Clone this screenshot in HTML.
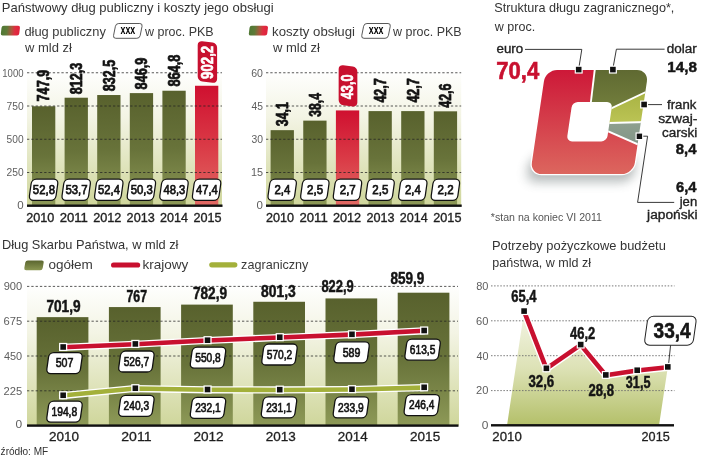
<!DOCTYPE html>
<html lang="pl"><head><meta charset="utf-8"><title>Państwowy dług publiczny i koszty jego obsługi</title>
<style>
html,body{margin:0;padding:0;background:#fff;}
body{width:720px;height:458px;overflow:hidden;}
svg{display:block;font-family:"Liberation Sans",sans-serif;}
</style></head><body>
<svg width="720" height="458" viewBox="0 0 720 458">
<defs>
<linearGradient id="bg" x1="0" y1="0" x2="0" y2="1"><stop offset="0" stop-color="#ffffff"/><stop offset="0.35" stop-color="#f3f4e4"/><stop offset="1" stop-color="#cfd69b"/></linearGradient>
<linearGradient id="ol" x1="0" y1="0" x2="0" y2="1"><stop offset="0" stop-color="#58612d"/><stop offset="0.5" stop-color="#68733a"/><stop offset="1" stop-color="#8d9957"/></linearGradient>
<linearGradient id="rd" x1="0" y1="0" x2="0" y2="1"><stop offset="0" stop-color="#cf1030"/><stop offset="0.5" stop-color="#da3a46"/><stop offset="1" stop-color="#e26a64"/></linearGradient>
<linearGradient id="sw" x1="0" y1="0" x2="1" y2="0"><stop offset="0" stop-color="#4f7834"/><stop offset="0.3" stop-color="#5e7a38"/><stop offset="0.55" stop-color="#a9583c"/><stop offset="0.75" stop-color="#e02c40"/><stop offset="1" stop-color="#e0213d"/></linearGradient>
<linearGradient id="sw2" x1="0" y1="0" x2="0" y2="1"><stop offset="0" stop-color="#5a652f"/><stop offset="1" stop-color="#8b9752"/></linearGradient>
<linearGradient id="area" gradientUnits="userSpaceOnUse" x1="0" y1="311" x2="0" y2="425"><stop offset="0" stop-color="#f4f5e6"/><stop offset="0.5" stop-color="#dde2b6"/><stop offset="1" stop-color="#b4c06a"/></linearGradient>
<linearGradient id="dred" gradientUnits="userSpaceOnUse" x1="0" y1="70" x2="0" y2="174"><stop offset="0" stop-color="#cd1838"/><stop offset="1" stop-color="#dc665e"/></linearGradient>
<linearGradient id="dgreen" x1="0" y1="0" x2="0" y2="1"><stop offset="0" stop-color="#5a642f"/><stop offset="1" stop-color="#78843f"/></linearGradient>
<linearGradient id="lgreen" x1="0" y1="0" x2="0" y2="1"><stop offset="0" stop-color="#a3af3f"/><stop offset="1" stop-color="#bcc455"/></linearGradient>
<linearGradient id="ggray" x1="0" y1="0" x2="0" y2="1"><stop offset="0" stop-color="#8fa08f"/><stop offset="1" stop-color="#7d9184"/></linearGradient>
<filter id="blur" x="-20%" y="-80%" width="140%" height="260%"><feGaussianBlur stdDeviation="5.2"/></filter>
</defs>

<text x="1.76" y="12.40" font-size="13.5" fill="#333" textLength="271.89" lengthAdjust="spacingAndGlyphs">Państwowy dług publiczny i koszty jego obsługi</text>
<rect x="27" y="69.75" width="195" height="135.95" fill="url(#bg)"/>
<rect x="32.00" y="106.28" width="23.3" height="99.42" fill="url(#ol)"/>
<rect x="64.60" y="97.71" width="23.3" height="107.99" fill="url(#ol)"/>
<rect x="97.20" y="95.03" width="23.3" height="110.67" fill="url(#ol)"/>
<rect x="129.80" y="93.11" width="23.3" height="112.59" fill="url(#ol)"/>
<rect x="162.40" y="90.73" width="23.3" height="114.97" fill="url(#ol)"/>
<rect x="195.00" y="85.76" width="23.3" height="119.94" fill="url(#rd)"/>
<line x1="27" y1="72.75" x2="222" y2="72.75" stroke="#222" stroke-width="0.75" stroke-dasharray="2.3 2.0"/>
<text x="2.28" y="76.55" font-size="11" fill="#5e5e5e" textLength="21.25" lengthAdjust="spacingAndGlyphs">1000</text>
<line x1="27" y1="106.00" x2="222" y2="106.00" stroke="#222" stroke-width="0.75" stroke-dasharray="2.3 2.0"/>
<text x="6.49" y="109.80" font-size="11" fill="#5e5e5e" textLength="17.11" lengthAdjust="spacingAndGlyphs">750</text>
<line x1="27" y1="139.25" x2="222" y2="139.25" stroke="#222" stroke-width="0.75" stroke-dasharray="2.3 2.0"/>
<text x="6.59" y="143.05" font-size="11" fill="#5e5e5e" textLength="17.00" lengthAdjust="spacingAndGlyphs">500</text>
<line x1="27" y1="172.50" x2="222" y2="172.50" stroke="#222" stroke-width="0.75" stroke-dasharray="2.3 2.0"/>
<text x="6.49" y="176.30" font-size="11" fill="#5e5e5e" textLength="17.11" lengthAdjust="spacingAndGlyphs">250</text>
<text x="17.20" y="209.15" font-size="11" fill="#5e5e5e" textLength="6.42" lengthAdjust="spacingAndGlyphs">0</text>
<rect x="27" y="204.50" width="195.5" height="2.4" fill="#111"/>
<rect x="-13.32" y="-10.60" width="26.63" height="21.20" rx="4.6" fill="#fff" stroke="#111" stroke-width="1.25" transform="translate(43.60,189.70) skewX(-7.97)"/>
<text x="32.85" y="194.30" font-size="13.6" fill="#151515" textLength="22.12" lengthAdjust="spacingAndGlyphs" stroke="#151515" stroke-width="0.75">52,8</text>
<text x="26.27" y="221.50" font-size="12.9" fill="#1e1e1e" textLength="28.07" lengthAdjust="spacingAndGlyphs" stroke="#1e1e1e" stroke-width="0.35">2010</text>
<rect x="-13.32" y="-10.60" width="26.63" height="21.20" rx="4.6" fill="#fff" stroke="#111" stroke-width="1.25" transform="translate(76.20,189.70) skewX(-7.97)"/>
<text x="65.44" y="194.30" font-size="13.6" fill="#151515" textLength="22.18" lengthAdjust="spacingAndGlyphs" stroke="#151515" stroke-width="0.75">53,7</text>
<text x="59.69" y="221.50" font-size="12.9" fill="#1e1e1e" textLength="28.25" lengthAdjust="spacingAndGlyphs" stroke="#1e1e1e" stroke-width="0.35">2011</text>
<rect x="-13.32" y="-10.60" width="26.63" height="21.20" rx="4.6" fill="#fff" stroke="#111" stroke-width="1.25" transform="translate(108.80,189.70) skewX(-7.97)"/>
<text x="98.05" y="194.30" font-size="13.6" fill="#151515" textLength="21.95" lengthAdjust="spacingAndGlyphs" stroke="#151515" stroke-width="0.75">52,4</text>
<text x="93.17" y="221.50" font-size="12.9" fill="#1e1e1e" textLength="28.20" lengthAdjust="spacingAndGlyphs" stroke="#1e1e1e" stroke-width="0.35">2012</text>
<rect x="-13.32" y="-10.60" width="26.63" height="21.20" rx="4.6" fill="#fff" stroke="#111" stroke-width="1.25" transform="translate(141.40,189.70) skewX(-7.97)"/>
<text x="130.65" y="194.30" font-size="13.6" fill="#151515" textLength="22.12" lengthAdjust="spacingAndGlyphs" stroke="#151515" stroke-width="0.75">50,3</text>
<text x="126.62" y="221.50" font-size="12.9" fill="#1e1e1e" textLength="28.13" lengthAdjust="spacingAndGlyphs" stroke="#1e1e1e" stroke-width="0.35">2013</text>
<rect x="-13.32" y="-10.60" width="26.63" height="21.20" rx="4.6" fill="#fff" stroke="#111" stroke-width="1.25" transform="translate(174.00,189.70) skewX(-7.97)"/>
<text x="163.48" y="194.30" font-size="13.6" fill="#151515" textLength="21.89" lengthAdjust="spacingAndGlyphs" stroke="#151515" stroke-width="0.75">48,3</text>
<text x="160.07" y="221.50" font-size="12.9" fill="#1e1e1e" textLength="27.94" lengthAdjust="spacingAndGlyphs" stroke="#1e1e1e" stroke-width="0.35">2014</text>
<rect x="-13.32" y="-10.60" width="26.63" height="21.20" rx="4.6" fill="#fff" stroke="#111" stroke-width="1.25" transform="translate(206.60,189.70) skewX(-7.97)"/>
<text x="196.08" y="194.30" font-size="13.6" fill="#151515" textLength="21.72" lengthAdjust="spacingAndGlyphs" stroke="#151515" stroke-width="0.75">47,4</text>
<text x="193.52" y="221.50" font-size="12.9" fill="#1e1e1e" textLength="28.13" lengthAdjust="spacingAndGlyphs" stroke="#1e1e1e" stroke-width="0.35">2015</text>
<text transform="translate(49.35,100.90) rotate(-90)" x="-0.50" font-size="16" font-weight="bold" fill="#111" stroke="#111" stroke-width="0.75" stroke-linejoin="round" textLength="31.58" lengthAdjust="spacingAndGlyphs">747,9</text>
<text transform="translate(81.95,93.80) rotate(-90)" x="-0.38" font-size="16" font-weight="bold" fill="#111" stroke="#111" stroke-width="0.75" stroke-linejoin="round" textLength="31.45" lengthAdjust="spacingAndGlyphs">812,3</text>
<text transform="translate(114.55,90.80) rotate(-90)" x="-0.38" font-size="16" font-weight="bold" fill="#111" stroke="#111" stroke-width="0.75" stroke-linejoin="round" textLength="31.32" lengthAdjust="spacingAndGlyphs">832,5</text>
<text transform="translate(147.15,89.00) rotate(-90)" x="-0.38" font-size="16" font-weight="bold" fill="#111" stroke="#111" stroke-width="0.75" stroke-linejoin="round" textLength="31.76" lengthAdjust="spacingAndGlyphs">846,9</text>
<text transform="translate(179.75,86.20) rotate(-90)" x="-0.38" font-size="16" font-weight="bold" fill="#111" stroke="#111" stroke-width="0.75" stroke-linejoin="round" textLength="31.83" lengthAdjust="spacingAndGlyphs">864,8</text>
<rect x="266" y="69.75" width="195.2" height="135.95" fill="url(#bg)"/>
<rect x="270.60" y="130.16" width="23.3" height="75.54" fill="url(#ol)"/>
<rect x="303.25" y="120.63" width="23.3" height="85.07" fill="url(#ol)"/>
<rect x="335.90" y="110.43" width="23.3" height="95.27" fill="url(#rd)"/>
<rect x="368.50" y="111.10" width="23.3" height="94.60" fill="url(#ol)"/>
<rect x="401.20" y="111.10" width="23.3" height="94.60" fill="url(#ol)"/>
<rect x="433.80" y="111.32" width="23.3" height="94.38" fill="url(#ol)"/>
<line x1="266" y1="72.75" x2="461.2" y2="72.75" stroke="#222" stroke-width="0.75" stroke-dasharray="2.3 2.0"/>
<text x="251.27" y="76.55" font-size="11" fill="#5e5e5e" textLength="11.72" lengthAdjust="spacingAndGlyphs">60</text>
<line x1="266" y1="106.00" x2="461.2" y2="106.00" stroke="#222" stroke-width="0.75" stroke-dasharray="2.3 2.0"/>
<text x="251.59" y="109.80" font-size="11" fill="#5e5e5e" textLength="11.44" lengthAdjust="spacingAndGlyphs">45</text>
<line x1="266" y1="139.25" x2="461.2" y2="139.25" stroke="#222" stroke-width="0.75" stroke-dasharray="2.3 2.0"/>
<text x="251.44" y="143.05" font-size="11" fill="#5e5e5e" textLength="11.55" lengthAdjust="spacingAndGlyphs">30</text>
<line x1="266" y1="172.50" x2="461.2" y2="172.50" stroke="#222" stroke-width="0.75" stroke-dasharray="2.3 2.0"/>
<text x="250.99" y="176.30" font-size="11" fill="#5e5e5e" textLength="12.07" lengthAdjust="spacingAndGlyphs">15</text>
<text x="256.60" y="209.15" font-size="11" fill="#5e5e5e" textLength="6.42" lengthAdjust="spacingAndGlyphs">0</text>
<rect x="266" y="204.50" width="195.7" height="2.4" fill="#111"/>
<rect x="-13.32" y="-10.60" width="26.63" height="21.20" rx="4.6" fill="#fff" stroke="#111" stroke-width="1.25" transform="translate(282.20,189.70) skewX(-7.97)"/>
<text x="274.43" y="194.30" font-size="13.6" fill="#151515" textLength="15.86" lengthAdjust="spacingAndGlyphs" stroke="#151515" stroke-width="0.75">2,4</text>
<text x="266.07" y="221.50" font-size="12.9" fill="#1e1e1e" textLength="28.07" lengthAdjust="spacingAndGlyphs" stroke="#1e1e1e" stroke-width="0.35">2010</text>
<rect x="-13.32" y="-10.60" width="26.63" height="21.20" rx="4.6" fill="#fff" stroke="#111" stroke-width="1.25" transform="translate(314.85,189.70) skewX(-7.97)"/>
<text x="307.07" y="194.30" font-size="13.6" fill="#151515" textLength="16.04" lengthAdjust="spacingAndGlyphs" stroke="#151515" stroke-width="0.75">2,5</text>
<text x="299.49" y="221.50" font-size="12.9" fill="#1e1e1e" textLength="28.25" lengthAdjust="spacingAndGlyphs" stroke="#1e1e1e" stroke-width="0.35">2011</text>
<rect x="-13.32" y="-10.60" width="26.63" height="21.20" rx="4.6" fill="#fff" stroke="#111" stroke-width="1.25" transform="translate(347.50,189.70) skewX(-7.97)"/>
<text x="339.72" y="194.30" font-size="13.6" fill="#151515" textLength="16.10" lengthAdjust="spacingAndGlyphs" stroke="#151515" stroke-width="0.75">2,7</text>
<text x="332.97" y="221.50" font-size="12.9" fill="#1e1e1e" textLength="28.20" lengthAdjust="spacingAndGlyphs" stroke="#1e1e1e" stroke-width="0.35">2012</text>
<rect x="-13.32" y="-10.60" width="26.63" height="21.20" rx="4.6" fill="#fff" stroke="#111" stroke-width="1.25" transform="translate(380.10,189.70) skewX(-7.97)"/>
<text x="372.32" y="194.30" font-size="13.6" fill="#151515" textLength="16.04" lengthAdjust="spacingAndGlyphs" stroke="#151515" stroke-width="0.75">2,5</text>
<text x="366.42" y="221.50" font-size="12.9" fill="#1e1e1e" textLength="28.13" lengthAdjust="spacingAndGlyphs" stroke="#1e1e1e" stroke-width="0.35">2013</text>
<rect x="-13.32" y="-10.60" width="26.63" height="21.20" rx="4.6" fill="#fff" stroke="#111" stroke-width="1.25" transform="translate(412.80,189.70) skewX(-7.97)"/>
<text x="405.03" y="194.30" font-size="13.6" fill="#151515" textLength="15.86" lengthAdjust="spacingAndGlyphs" stroke="#151515" stroke-width="0.75">2,4</text>
<text x="399.87" y="221.50" font-size="12.9" fill="#1e1e1e" textLength="27.94" lengthAdjust="spacingAndGlyphs" stroke="#1e1e1e" stroke-width="0.35">2014</text>
<rect x="-13.32" y="-10.60" width="26.63" height="21.20" rx="4.6" fill="#fff" stroke="#111" stroke-width="1.25" transform="translate(445.40,189.70) skewX(-7.97)"/>
<text x="437.62" y="194.30" font-size="13.6" fill="#151515" textLength="16.10" lengthAdjust="spacingAndGlyphs" stroke="#151515" stroke-width="0.75">2,2</text>
<text x="433.32" y="221.50" font-size="12.9" fill="#1e1e1e" textLength="28.13" lengthAdjust="spacingAndGlyphs" stroke="#1e1e1e" stroke-width="0.35">2015</text>
<text transform="translate(287.95,126.00) rotate(-90)" x="-0.25" font-size="16" font-weight="bold" fill="#111" stroke="#111" stroke-width="0.75" stroke-linejoin="round" textLength="24.07" lengthAdjust="spacingAndGlyphs">34,1</text>
<text transform="translate(320.60,116.40) rotate(-90)" x="-0.24" font-size="16" font-weight="bold" fill="#111" stroke="#111" stroke-width="0.75" stroke-linejoin="round" textLength="23.56" lengthAdjust="spacingAndGlyphs">38,4</text>
<text transform="translate(385.85,102.40) rotate(-90)" x="-0.19" font-size="16" font-weight="bold" fill="#111" stroke="#111" stroke-width="0.75" stroke-linejoin="round" textLength="24.30" lengthAdjust="spacingAndGlyphs">42,7</text>
<text transform="translate(418.55,102.40) rotate(-90)" x="-0.19" font-size="16" font-weight="bold" fill="#111" stroke="#111" stroke-width="0.75" stroke-linejoin="round" textLength="24.30" lengthAdjust="spacingAndGlyphs">42,7</text>
<text transform="translate(451.15,107.60) rotate(-90)" x="-0.19" font-size="16" font-weight="bold" fill="#111" stroke="#111" stroke-width="0.75" stroke-linejoin="round" textLength="24.24" lengthAdjust="spacingAndGlyphs">42,6</text>
<g transform="translate(207.40,62.00) rotate(-90)">
<rect x="-20.14" y="-9.70" width="40.28" height="19.40" rx="4.5" fill="#c8102f" transform="skewX(-7.41)"/>
<text x="-16.90" y="5.40" font-size="16.5" font-weight="bold" fill="#fff" stroke="#fff" stroke-width="0.7" stroke-linejoin="round" textLength="33.09" lengthAdjust="spacingAndGlyphs">902,2</text>
</g>
<g transform="translate(348.00,85.80) rotate(-90)">
<rect x="-19.98" y="-9.35" width="39.97" height="18.70" rx="4.5" fill="#c8102f" transform="skewX(-7.41)"/>
<text x="-13.39" y="5.40" font-size="16.5" font-weight="bold" fill="#fff" stroke="#fff" stroke-width="0.7" stroke-linejoin="round" textLength="24.65" lengthAdjust="spacingAndGlyphs">43,0</text>
</g>
<rect x="-9.21" y="-4.9" width="18.42" height="9.8" rx="2" fill="url(#sw)" transform="translate(10.40,30.7) skewX(-6.8)"/>
<text x="24.39" y="35.50" font-size="13.5" fill="#3a3a3a" textLength="81.48" lengthAdjust="spacingAndGlyphs">dług publiczny</text>
<text x="24.97" y="51.90" font-size="13.5" fill="#3a3a3a" textLength="46.95" lengthAdjust="spacingAndGlyphs">w mld zł</text>
<rect x="-13.32" y="-7.40" width="26.64" height="14.80" rx="2.8" fill="#fff" stroke="#444" stroke-width="0.85" transform="translate(127.80,30.90) skewX(-11.31)"/>
<text x="120.56" y="34.00" font-size="12.2" font-weight="bold" textLength="14.72" lengthAdjust="spacingAndGlyphs">xxx</text>
<text x="145.06" y="35.60" font-size="13.5" fill="#3a3a3a" textLength="68.59" lengthAdjust="spacingAndGlyphs">w proc. PKB</text>
<rect x="-9.21" y="-4.9" width="18.42" height="9.8" rx="2" fill="url(#sw)" transform="translate(258.40,30.7) skewX(-6.8)"/>
<text x="272.04" y="35.50" font-size="13.5" fill="#3a3a3a" textLength="82.93" lengthAdjust="spacingAndGlyphs">koszty obsługi</text>
<text x="272.97" y="51.90" font-size="13.5" fill="#3a3a3a" textLength="46.95" lengthAdjust="spacingAndGlyphs">w mld zł</text>
<rect x="-13.32" y="-7.40" width="26.64" height="14.80" rx="2.8" fill="#fff" stroke="#444" stroke-width="0.85" transform="translate(376.00,30.90) skewX(-11.31)"/>
<text x="368.76" y="34.00" font-size="12.2" font-weight="bold" textLength="14.72" lengthAdjust="spacingAndGlyphs">xxx</text>
<text x="393.06" y="35.60" font-size="13.5" fill="#3a3a3a" textLength="68.59" lengthAdjust="spacingAndGlyphs">w proc. PKB</text>
<text x="494.23" y="12.40" font-size="13.5" fill="#333" textLength="180.16" lengthAdjust="spacingAndGlyphs">Struktura długu zagranicznego*,</text>
<text x="494.86" y="31.00" font-size="13.5" fill="#333" textLength="40.34" lengthAdjust="spacingAndGlyphs">w proc.</text>
<clipPath id="donut"><path transform="translate(0,122.0) skewX(-8.42) translate(0,-122.0)" clip-rule="evenodd" fill-rule="evenodd" d="M549.4,70.0 H629.4 a11.5,11.5 0 0 1 11.5,11.5 V162.5 a11.5,11.5 0 0 1 -11.5,11.5 H549.4 a11.5,11.5 0 0 1 -11.5,-11.5 V81.5 a11.5,11.5 0 0 1 11.5,-11.5 Z M574.9,102.0 a5.5,5.5 0 0 0 -5.5,5.5 V135.9 a5.5,5.5 0 0 0 5.5,5.5 H604.1 a5.5,5.5 0 0 0 5.5,-5.5 V107.5 a5.5,5.5 0 0 0 -5.5,-5.5 Z"/></clipPath>
<rect x="534.9" y="156" width="107.0" height="26" rx="10" fill="#5f6b6b" opacity="0.45" filter="url(#blur)" transform="translate(0,122.0) skewX(-8.42) translate(0,-122.0)"/>
<rect x="536.6" y="68.7" width="105.6" height="106.6" rx="12.8" fill="#fff" transform="translate(0,122.0) skewX(-8.42) translate(0,-122.0)"/>
<rect x="569.4" y="102.0" width="40.200000000000045" height="39.400000000000006" rx="5.5" fill="#fff" transform="translate(0,122.0) skewX(-8.42) translate(0,-122.0)"/>
<g clip-path="url(#donut)">
<polygon points="589.5,123.1 660,154.1 660,185 515,185 515,55 595.2,55 595.2,66 590.4,106" fill="url(#dred)"/>
<polygon points="590.4,106 595.2,66 660,60 660,85.4 589.5,118.7" fill="url(#dgreen)"/>
<polygon points="589.5,118.7 660,85.4 660,121.7 589.5,123.5" fill="url(#lgreen)"/>
<polygon points="589.5,123.5 660,121.7 660,154.1 589.5,123.1" fill="url(#ggray)"/>
<line x1="590.4" y1="106" x2="595.2" y2="66" stroke="#fff" stroke-width="1.9"/>
<line x1="589.5" y1="118.7" x2="660" y2="85.4" stroke="#fff" stroke-width="1.9"/>
<line x1="589.5" y1="123.5" x2="660" y2="121.7" stroke="#fff" stroke-width="1.9"/>
<line x1="589.5" y1="123.1" x2="660" y2="154.1" stroke="#fff" stroke-width="1.9"/>
</g>
<g fill="none" stroke="#222" stroke-width="0.9">
<polyline points="525,49.4 581.8,49.4 579,67"/>
<polyline points="664.6,49.2 616.4,49.2 613.2,67"/>
<polyline points="647,104.6 662,104.6"/>
<polyline points="642,136.2 647.6,136.2 637.6,202.4 674.2,202.4"/>
</g>
<rect x="574.70" y="65.60" width="8.00" height="8.00" fill="#fff"/>
<rect x="575.90" y="66.80" width="5.60" height="5.60" fill="#111"/>
<rect x="608.90" y="65.60" width="8.00" height="8.00" fill="#fff"/>
<rect x="610.10" y="66.80" width="5.60" height="5.60" fill="#111"/>
<rect x="640.10" y="100.50" width="8.00" height="8.00" fill="#fff"/>
<rect x="641.30" y="101.70" width="5.60" height="5.60" fill="#111"/>
<rect x="635.50" y="132.40" width="7.80" height="7.80" fill="#fff"/>
<rect x="636.70" y="133.60" width="5.40" height="5.40" fill="#111"/>
<text x="496.47" y="53.40" font-size="12.5" fill="#222" textLength="26.69" lengthAdjust="spacingAndGlyphs" stroke="#222" stroke-width="0.35">euro</text>
<text x="496.32" y="78.60" font-size="24" font-weight="bold" fill="#c8102f" textLength="42.91" lengthAdjust="spacingAndGlyphs" stroke="#c8102f" stroke-width="0.6">70,4</text>
<text x="666.66" y="53.40" font-size="12.5" fill="#222" textLength="30.03" lengthAdjust="spacingAndGlyphs" stroke="#222" stroke-width="0.35">dolar</text>
<text x="667.29" y="71.70" font-size="15.4" font-weight="bold" fill="#151515" textLength="29.61" lengthAdjust="spacingAndGlyphs" stroke="#151515" stroke-width="0.5">14,8</text>
<text x="667.07" y="108.50" font-size="12.5" fill="#222" textLength="29.24" lengthAdjust="spacingAndGlyphs" stroke="#222" stroke-width="0.35">frank</text>
<text x="658.15" y="122.60" font-size="12.5" fill="#222" textLength="39.35" lengthAdjust="spacingAndGlyphs" stroke="#222" stroke-width="0.35">szwaj-</text>
<text x="661.96" y="136.60" font-size="12.5" fill="#222" textLength="35.24" lengthAdjust="spacingAndGlyphs" stroke="#222" stroke-width="0.35">carski</text>
<text x="675.75" y="153.50" font-size="15.4" font-weight="bold" fill="#151515" textLength="20.65" lengthAdjust="spacingAndGlyphs" stroke="#151515" stroke-width="0.5">8,4</text>
<text x="676.09" y="192.00" font-size="15.4" font-weight="bold" fill="#151515" textLength="20.42" lengthAdjust="spacingAndGlyphs" stroke="#151515" stroke-width="0.5">6,4</text>
<text x="679.73" y="205.50" font-size="12.5" fill="#222" textLength="17.45" lengthAdjust="spacingAndGlyphs" stroke="#222" stroke-width="0.35">jen</text>
<text x="647.14" y="219.00" font-size="12.5" fill="#222" textLength="50.41" lengthAdjust="spacingAndGlyphs" stroke="#222" stroke-width="0.35">japoński</text>
<text x="490.84" y="220.60" font-size="10.5" fill="#555" textLength="111.12" lengthAdjust="spacingAndGlyphs">*stan na koniec VI 2011</text>
<text x="1.98" y="249.40" font-size="13.5" fill="#333" textLength="176.47" lengthAdjust="spacingAndGlyphs">Dług Skarbu Państwa, w mld zł</text>
<rect x="-9.2" y="-4.9" width="18.4" height="9.8" rx="2.2" fill="url(#sw2)" transform="translate(34,265.3) skewX(-10)"/>
<text x="48.46" y="268.50" font-size="13.5" fill="#3a3a3a" textLength="44.42" lengthAdjust="spacingAndGlyphs">ogółem</text>
<line x1="113.6" y1="265" x2="137.6" y2="265" stroke="#c8102f" stroke-width="5.2" stroke-linecap="round"/>
<text x="142.42" y="268.50" font-size="13.5" fill="#3a3a3a" textLength="45.88" lengthAdjust="spacingAndGlyphs">krajowy</text>
<line x1="211.8" y1="264.8" x2="234.8" y2="264.8" stroke="#a3b03a" stroke-width="5.2" stroke-linecap="round"/>
<text x="241.10" y="268.50" font-size="13.5" fill="#3a3a3a" textLength="67.32" lengthAdjust="spacingAndGlyphs">zagraniczny</text>
<rect x="27" y="283.4" width="432" height="142.20000000000005" fill="url(#bg)"/>
<rect x="36.70" y="317.14" width="51.7" height="108.46" fill="url(#ol)"/>
<rect x="108.90" y="307.07" width="51.7" height="118.53" fill="url(#ol)"/>
<rect x="181.10" y="304.61" width="51.7" height="120.99" fill="url(#ol)"/>
<rect x="253.30" y="301.77" width="51.7" height="123.83" fill="url(#ol)"/>
<rect x="325.50" y="298.42" width="51.7" height="127.18" fill="url(#ol)"/>
<rect x="397.70" y="292.70" width="51.7" height="132.90" fill="url(#ol)"/>
<line x1="27" y1="286.40" x2="458" y2="286.40" stroke="#222" stroke-width="0.75" stroke-dasharray="2.3 2.0"/>
<text x="3.70" y="290.20" font-size="11" fill="#5e5e5e" textLength="18.53" lengthAdjust="spacingAndGlyphs">900</text>
<line x1="27" y1="321.20" x2="458" y2="321.20" stroke="#222" stroke-width="0.75" stroke-dasharray="2.3 2.0"/>
<text x="3.64" y="325.00" font-size="11" fill="#5e5e5e" textLength="18.65" lengthAdjust="spacingAndGlyphs">675</text>
<line x1="27" y1="356.00" x2="458" y2="356.00" stroke="#222" stroke-width="0.75" stroke-dasharray="2.3 2.0"/>
<text x="3.98" y="359.80" font-size="11" fill="#5e5e5e" textLength="18.24" lengthAdjust="spacingAndGlyphs">450</text>
<line x1="27" y1="390.80" x2="458" y2="390.80" stroke="#222" stroke-width="0.75" stroke-dasharray="2.3 2.0"/>
<text x="3.64" y="394.60" font-size="11" fill="#5e5e5e" textLength="18.65" lengthAdjust="spacingAndGlyphs">225</text>
<text x="15.58" y="427.60" font-size="11" fill="#5e5e5e" textLength="6.65" lengthAdjust="spacingAndGlyphs">0</text>
<rect x="27" y="424.40" width="431.5" height="2.4" fill="#111"/>
<text x="46.45" y="311.50" font-size="15.8" font-weight="bold" fill="#151515" textLength="34.16" lengthAdjust="spacingAndGlyphs" stroke="#151515" stroke-width="0.5">701,9</text>
<text x="126.41" y="302.30" font-size="15.8" font-weight="bold" fill="#151515" textLength="20.63" lengthAdjust="spacingAndGlyphs" stroke="#151515" stroke-width="0.5">767</text>
<text x="192.96" y="299.40" font-size="15.8" font-weight="bold" fill="#151515" textLength="34.05" lengthAdjust="spacingAndGlyphs" stroke="#151515" stroke-width="0.5">782,9</text>
<text x="261.08" y="296.80" font-size="15.8" font-weight="bold" fill="#151515" textLength="34.74" lengthAdjust="spacingAndGlyphs" stroke="#151515" stroke-width="0.5">801,3</text>
<text x="321.41" y="292.30" font-size="15.8" font-weight="bold" fill="#151515" textLength="32.27" lengthAdjust="spacingAndGlyphs" stroke="#151515" stroke-width="0.5">822,9</text>
<text x="390.49" y="283.60" font-size="15.8" font-weight="bold" fill="#151515" textLength="33.91" lengthAdjust="spacingAndGlyphs" stroke="#151515" stroke-width="0.5">859,9</text>
<polyline points="62.55,347.28 134.75,344.24 206.95,340.51 279.15,337.51 351.35,334.60 423.55,330.81" fill="none" stroke="#fff" stroke-width="7.2" stroke-linecap="round" stroke-linejoin="round"/>
<polyline points="62.55,347.28 134.75,344.24 206.95,340.51 279.15,337.51 351.35,334.60 423.55,330.81" fill="none" stroke="#c8102f" stroke-width="4.6" stroke-linecap="round" stroke-linejoin="round"/>
<rect x="59.05" y="342.88" width="8.20" height="8.20" fill="#fff"/>
<rect x="60.35" y="344.18" width="5.60" height="5.60" fill="#111"/>
<rect x="131.25" y="339.84" width="8.20" height="8.20" fill="#fff"/>
<rect x="132.55" y="341.14" width="5.60" height="5.60" fill="#111"/>
<rect x="203.45" y="336.11" width="8.20" height="8.20" fill="#fff"/>
<rect x="204.75" y="337.41" width="5.60" height="5.60" fill="#111"/>
<rect x="275.65" y="333.11" width="8.20" height="8.20" fill="#fff"/>
<rect x="276.95" y="334.41" width="5.60" height="5.60" fill="#111"/>
<rect x="347.85" y="330.20" width="8.20" height="8.20" fill="#fff"/>
<rect x="349.15" y="331.50" width="5.60" height="5.60" fill="#111"/>
<rect x="420.05" y="326.41" width="8.20" height="8.20" fill="#fff"/>
<rect x="421.35" y="327.71" width="5.60" height="5.60" fill="#111"/>
<polyline points="62.55,395.57 134.75,388.53 206.95,389.80 279.15,389.96 351.35,389.52 423.55,387.59" fill="none" stroke="#fff" stroke-width="7.2" stroke-linecap="round" stroke-linejoin="round"/>
<polyline points="62.55,395.57 134.75,388.53 206.95,389.80 279.15,389.96 351.35,389.52 423.55,387.59" fill="none" stroke="#a3b03a" stroke-width="4.6" stroke-linecap="round" stroke-linejoin="round"/>
<rect x="59.05" y="391.17" width="8.20" height="8.20" fill="#fff"/>
<rect x="60.35" y="392.47" width="5.60" height="5.60" fill="#111"/>
<rect x="131.25" y="384.13" width="8.20" height="8.20" fill="#fff"/>
<rect x="132.55" y="385.43" width="5.60" height="5.60" fill="#111"/>
<rect x="203.45" y="385.40" width="8.20" height="8.20" fill="#fff"/>
<rect x="204.75" y="386.70" width="5.60" height="5.60" fill="#111"/>
<rect x="275.65" y="385.56" width="8.20" height="8.20" fill="#fff"/>
<rect x="276.95" y="386.86" width="5.60" height="5.60" fill="#111"/>
<rect x="347.85" y="385.12" width="8.20" height="8.20" fill="#fff"/>
<rect x="349.15" y="386.42" width="5.60" height="5.60" fill="#111"/>
<rect x="420.05" y="383.19" width="8.20" height="8.20" fill="#fff"/>
<rect x="421.35" y="384.49" width="5.60" height="5.60" fill="#111"/>
<rect x="-16.83" y="-10.50" width="33.66" height="21.00" rx="4.6" fill="#fff" stroke="#111" stroke-width="1.3" transform="translate(64.50,363.20) skewX(-7.97)"/>
<text x="55.67" y="367.40" font-size="13.2" fill="#151515" textLength="17.74" lengthAdjust="spacingAndGlyphs" stroke="#151515" stroke-width="0.7">507</text>
<rect x="-16.83" y="-10.50" width="33.66" height="21.00" rx="4.6" fill="#fff" stroke="#111" stroke-width="1.3" transform="translate(136.40,361.50) skewX(-7.97)"/>
<text x="123.69" y="365.70" font-size="13.2" fill="#151515" textLength="25.49" lengthAdjust="spacingAndGlyphs" stroke="#151515" stroke-width="0.7">526,7</text>
<rect x="-16.83" y="-10.50" width="33.66" height="21.00" rx="4.6" fill="#fff" stroke="#111" stroke-width="1.3" transform="translate(208.00,357.70) skewX(-7.97)"/>
<text x="195.29" y="361.90" font-size="13.2" fill="#151515" textLength="25.44" lengthAdjust="spacingAndGlyphs" stroke="#151515" stroke-width="0.7">550,8</text>
<rect x="-16.83" y="-10.50" width="33.66" height="21.00" rx="4.6" fill="#fff" stroke="#111" stroke-width="1.3" transform="translate(279.50,354.50) skewX(-7.97)"/>
<text x="266.79" y="358.70" font-size="13.2" fill="#151515" textLength="25.49" lengthAdjust="spacingAndGlyphs" stroke="#151515" stroke-width="0.7">570,2</text>
<rect x="-16.83" y="-10.50" width="33.66" height="21.00" rx="4.6" fill="#fff" stroke="#111" stroke-width="1.3" transform="translate(351.50,352.30) skewX(-7.97)"/>
<text x="342.67" y="356.50" font-size="13.2" fill="#151515" textLength="17.74" lengthAdjust="spacingAndGlyphs" stroke="#151515" stroke-width="0.7">589</text>
<rect x="-16.83" y="-10.50" width="33.66" height="21.00" rx="4.6" fill="#fff" stroke="#111" stroke-width="1.3" transform="translate(422.60,349.70) skewX(-7.97)"/>
<text x="409.79" y="353.90" font-size="13.2" fill="#151515" textLength="25.54" lengthAdjust="spacingAndGlyphs" stroke="#151515" stroke-width="0.7">613,5</text>
<rect x="-16.83" y="-10.50" width="33.66" height="21.00" rx="4.6" fill="#fff" stroke="#111" stroke-width="1.3" transform="translate(64.50,411.70) skewX(-7.97)"/>
<text x="51.43" y="415.90" font-size="13.2" fill="#151515" textLength="25.81" lengthAdjust="spacingAndGlyphs" stroke="#151515" stroke-width="0.7">194,8</text>
<rect x="-16.83" y="-10.50" width="33.66" height="21.00" rx="4.6" fill="#fff" stroke="#111" stroke-width="1.3" transform="translate(136.40,405.90) skewX(-7.97)"/>
<text x="123.59" y="410.10" font-size="13.2" fill="#151515" textLength="25.54" lengthAdjust="spacingAndGlyphs" stroke="#151515" stroke-width="0.7">240,3</text>
<rect x="-16.83" y="-10.50" width="33.66" height="21.00" rx="4.6" fill="#fff" stroke="#111" stroke-width="1.3" transform="translate(208.00,407.90) skewX(-7.97)"/>
<text x="195.19" y="412.10" font-size="13.2" fill="#151515" textLength="25.60" lengthAdjust="spacingAndGlyphs" stroke="#151515" stroke-width="0.7">232,1</text>
<rect x="-16.83" y="-10.50" width="33.66" height="21.00" rx="4.6" fill="#fff" stroke="#111" stroke-width="1.3" transform="translate(279.00,407.30) skewX(-7.97)"/>
<text x="266.19" y="411.50" font-size="13.2" fill="#151515" textLength="25.60" lengthAdjust="spacingAndGlyphs" stroke="#151515" stroke-width="0.7">231,1</text>
<rect x="-16.83" y="-10.50" width="33.66" height="21.00" rx="4.6" fill="#fff" stroke="#111" stroke-width="1.3" transform="translate(350.90,407.30) skewX(-7.97)"/>
<text x="338.09" y="411.50" font-size="13.2" fill="#151515" textLength="25.60" lengthAdjust="spacingAndGlyphs" stroke="#151515" stroke-width="0.7">233,9</text>
<rect x="-16.83" y="-10.50" width="33.66" height="21.00" rx="4.6" fill="#fff" stroke="#111" stroke-width="1.3" transform="translate(421.80,405.10) skewX(-7.97)"/>
<text x="408.99" y="409.30" font-size="13.2" fill="#151515" textLength="25.39" lengthAdjust="spacingAndGlyphs" stroke="#151515" stroke-width="0.7">246,4</text>
<text x="49.07" y="440.60" font-size="13" fill="#1e1e1e" textLength="30.04" lengthAdjust="spacingAndGlyphs" stroke="#1e1e1e" stroke-width="0.3">2010</text>
<text x="121.25" y="440.60" font-size="13" fill="#1e1e1e" textLength="30.24" lengthAdjust="spacingAndGlyphs" stroke="#1e1e1e" stroke-width="0.3">2011</text>
<text x="193.47" y="440.60" font-size="13" fill="#1e1e1e" textLength="30.18" lengthAdjust="spacingAndGlyphs" stroke="#1e1e1e" stroke-width="0.3">2012</text>
<text x="265.67" y="440.60" font-size="13" fill="#1e1e1e" textLength="30.11" lengthAdjust="spacingAndGlyphs" stroke="#1e1e1e" stroke-width="0.3">2013</text>
<text x="337.88" y="440.60" font-size="13" fill="#1e1e1e" textLength="29.90" lengthAdjust="spacingAndGlyphs" stroke="#1e1e1e" stroke-width="0.3">2014</text>
<text x="410.07" y="440.60" font-size="13" fill="#1e1e1e" textLength="30.11" lengthAdjust="spacingAndGlyphs" stroke="#1e1e1e" stroke-width="0.3">2015</text>
<text x="0.60" y="454.80" font-size="10.3" fill="#333" textLength="47.59" lengthAdjust="spacingAndGlyphs">źródło: MF</text>
<text x="491.97" y="249.50" font-size="13.5" fill="#333" textLength="173.90" lengthAdjust="spacingAndGlyphs">Potrzeby pożyczkowe budżetu</text>
<text x="492.25" y="267.00" font-size="13.5" fill="#333" textLength="98.77" lengthAdjust="spacingAndGlyphs">państwa, w mld zł</text>
<polygon points="507,425.5 524.10,311.38 546.40,368.61 580.70,344.88 605.80,375.24 637.20,370.53 667.80,367.22 659,425.5" fill="url(#area)"/>
<line x1="491" y1="285.90" x2="674.5" y2="285.90" stroke="#6a6a6a" stroke-width="0.9" stroke-dasharray="1.5 1.6"/>
<text x="476.16" y="289.70" font-size="11" fill="#5e5e5e" textLength="12.25" lengthAdjust="spacingAndGlyphs">80</text>
<line x1="491" y1="320.80" x2="674.5" y2="320.80" stroke="#6a6a6a" stroke-width="0.9" stroke-dasharray="1.5 1.6"/>
<text x="476.04" y="324.60" font-size="11" fill="#5e5e5e" textLength="12.37" lengthAdjust="spacingAndGlyphs">60</text>
<line x1="491" y1="355.70" x2="674.5" y2="355.70" stroke="#6a6a6a" stroke-width="0.9" stroke-dasharray="1.5 1.6"/>
<text x="476.38" y="359.50" font-size="11" fill="#5e5e5e" textLength="12.02" lengthAdjust="spacingAndGlyphs">40</text>
<line x1="491" y1="390.60" x2="674.5" y2="390.60" stroke="#6a6a6a" stroke-width="0.9" stroke-dasharray="1.5 1.6"/>
<text x="476.04" y="394.40" font-size="11" fill="#5e5e5e" textLength="12.37" lengthAdjust="spacingAndGlyphs">20</text>
<text x="481.78" y="428.90" font-size="11" fill="#5e5e5e" textLength="6.65" lengthAdjust="spacingAndGlyphs">0</text>
<rect x="491" y="424.1" width="183" height="2.4" fill="#111"/>
<polyline points="524.10,311.38 546.40,368.61 580.70,344.88 605.80,375.24 637.20,370.53 667.80,367.22" fill="none" stroke="#fff" stroke-width="7.4" stroke-linejoin="round" stroke-linecap="round"/>
<polyline points="524.10,311.38 546.40,368.61 580.70,344.88 605.80,375.24 637.20,370.53 667.80,367.22" fill="none" stroke="#c8102f" stroke-width="4.6" stroke-linejoin="round" stroke-linecap="round"/>
<line x1="670.6" y1="345" x2="668.4" y2="366" stroke="#222" stroke-width="0.9"/>
<rect x="520.10" y="307.08" width="8.00" height="8.00" fill="#fff"/>
<rect x="521.30" y="308.28" width="5.60" height="5.60" fill="#111"/>
<rect x="542.40" y="364.31" width="8.00" height="8.00" fill="#fff"/>
<rect x="543.60" y="365.51" width="5.60" height="5.60" fill="#111"/>
<rect x="576.70" y="340.58" width="8.00" height="8.00" fill="#fff"/>
<rect x="577.90" y="341.78" width="5.60" height="5.60" fill="#111"/>
<rect x="601.80" y="370.94" width="8.00" height="8.00" fill="#fff"/>
<rect x="603.00" y="372.14" width="5.60" height="5.60" fill="#111"/>
<rect x="633.20" y="366.23" width="8.00" height="8.00" fill="#fff"/>
<rect x="634.40" y="367.43" width="5.60" height="5.60" fill="#111"/>
<rect x="663.80" y="362.92" width="8.00" height="8.00" fill="#fff"/>
<rect x="665.00" y="364.12" width="5.60" height="5.60" fill="#111"/>
<text x="511.35" y="301.80" font-size="15.6" font-weight="bold" fill="#151515" textLength="25.07" lengthAdjust="spacingAndGlyphs" stroke="#151515" stroke-width="0.5">65,4</text>
<text x="570.01" y="338.80" font-size="15.6" font-weight="bold" fill="#151515" textLength="25.16" lengthAdjust="spacingAndGlyphs" stroke="#151515" stroke-width="0.5">46,2</text>
<text x="528.44" y="387.00" font-size="15.6" font-weight="bold" fill="#151515" textLength="25.75" lengthAdjust="spacingAndGlyphs" stroke="#151515" stroke-width="0.5">32,6</text>
<text x="588.51" y="395.70" font-size="15.6" font-weight="bold" fill="#151515" textLength="25.44" lengthAdjust="spacingAndGlyphs" stroke="#151515" stroke-width="0.5">28,8</text>
<text x="625.85" y="387.60" font-size="15.6" font-weight="bold" fill="#151515" textLength="24.59" lengthAdjust="spacingAndGlyphs" stroke="#151515" stroke-width="0.5">31,5</text>
<rect x="-24.37" y="-14.50" width="48.74" height="29.00" rx="5.5" fill="#fff" stroke="#222" stroke-width="1" transform="translate(670.40,330.80) skewX(-7.97)"/>
<text x="653.62" y="338.40" font-size="21.8" font-weight="bold" fill="#151515" textLength="37.11" lengthAdjust="spacingAndGlyphs" stroke="#151515" stroke-width="0.6">33,4</text>
<text x="492.34" y="441.00" font-size="13" fill="#1e1e1e" textLength="29.42" lengthAdjust="spacingAndGlyphs" stroke="#1e1e1e" stroke-width="0.3">2010</text>
<text x="641.57" y="441.00" font-size="13" fill="#1e1e1e" textLength="28.13" lengthAdjust="spacingAndGlyphs" stroke="#1e1e1e" stroke-width="0.3">2015</text>
</svg></body></html>
